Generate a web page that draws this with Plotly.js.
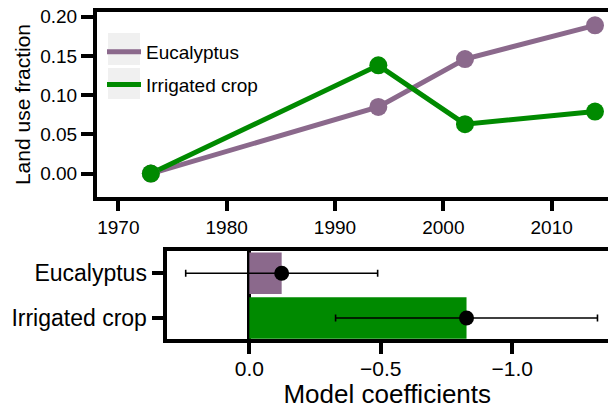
<!DOCTYPE html>
<html>
<head>
<meta charset="utf-8">
<script src="https://cdn.plot.ly/plotly-3.0.1.min.js"></script>
<style>html,body{margin:0;padding:0;background:#fff;}#chart{width:608px;height:409px;}</style>
</head>
<body>
<div id="chart"></div>
<script>
// ---- data ----
const years = [1973, 1994, 2002, 2014];
const eucalyptusFraction = [0.0, 0.085, 0.146, 0.189];
const irrigatedFraction = [0.0, 0.138, 0.063, 0.079];
const seriesNames = ["Eucalyptus", "Irrigated crop"];
const coefficients = [-0.123, -0.826];
const ciHalfWidth = [0.365, 0.498];
const yearTicks = [1970, 1980, 1990, 2000, 2010];
const fractionTicks = [0.00, 0.05, 0.10, 0.15, 0.20];
const coefTicks = [0.0, -0.5, -1.0];

const purple = "#8b698c";
const green = "#008a00";
const font = "Liberation Sans, Arial, Helvetica, sans-serif";

const traces = [
  {x: years, y: eucalyptusFraction, mode: "lines", name: seriesNames[0], legendgroup: "a",
   line: {color: purple, width: 5}, xaxis: "x", yaxis: "y"},
  {x: years, y: irrigatedFraction, mode: "lines", name: seriesNames[1], legendgroup: "b",
   line: {color: green, width: 5}, xaxis: "x", yaxis: "y"},
  {x: years, y: eucalyptusFraction, mode: "markers", showlegend: false,
   marker: {color: purple, size: 18}, xaxis: "x", yaxis: "y"},
  {x: years, y: irrigatedFraction, mode: "markers", showlegend: false,
   marker: {color: green, size: 18}, xaxis: "x", yaxis: "y"},
  {type: "bar", orientation: "h", x: coefficients, y: seriesNames, width: 0.93,
   marker: {color: [purple, green], line: {width: 0}}, showlegend: false, xaxis: "x2", yaxis: "y2"},
  {type: "scatter", mode: "markers", x: coefficients, y: seriesNames, showlegend: false,
   marker: {color: "black", size: 15},
   error_x: {type: "data", array: ciHalfWidth, symmetric: true, color: "black", thickness: 1.6, width: 3.5},
   xaxis: "x2", yaxis: "y2"}
];

const axCommon = {
  showline: true, linecolor: "black", linewidth: 4, mirror: true,
  ticks: "outside", tickcolor: "black", tickwidth: 4,
  showgrid: false, zeroline: false
};

const layout = {
  width: 608, height: 409,
  margin: {l: 0, r: 0, t: 12, b: 70, pad: 0},
  paper_bgcolor: "white", plot_bgcolor: "white",
  font: {family: font, color: "black"},
  showlegend: true,
  legend: {x: 102/608, xanchor: "left", y: 0.936, yanchor: "top", itemwidth: 34,
           bgcolor: "rgba(0,0,0,0)", font: {size: 19, family: font}, tracegroupgap: 5},
  xaxis: Object.assign({}, axCommon, {
    domain: [97/608, 1], range: [1968.03, 2015.2], tickvals: yearTicks, ticklen: 10,
    tickfont: {size: 19, family: font}, anchor: "y"}),
  yaxis: Object.assign({}, axCommon, {
    domain: [0.434, 1], range: [-0.030, 0.206], tickvals: fractionTicks, tickformat: ".2f",
    ticklen: 12, tickfont: {size: 19, family: font}, anchor: "x",
    title: {text: "Land use fraction", font: {size: 21}, standoff: 5}}),
  xaxis2: Object.assign({}, axCommon, {
    domain: [166.5/608, 1], range: [0.315, -1.364], tickvals: coefTicks, tickformat: ".1f",
    ticklen: 11, tickfont: {size: 21, family: font}, anchor: "y2", ticklabelstandoff: -3,
    zeroline: true, zerolinecolor: "black", zerolinewidth: 4,
    title: {text: "Model coefficients", font: {size: 26}, standoff: 0}}),
  yaxis2: Object.assign({}, axCommon, {
    domain: [0, 0.2706], range: [1.47, -0.51], type: "category",
    ticklen: 11, tickfont: {size: 23, family: font}, anchor: "x2"}),
  shapes: [
    {type: "rect", xref: "paper", yref: "paper", x0: 108/608, x1: 140/608,
     y0: (339-65)/327, y1: (339-33)/327, fillcolor: "#f0f0f0", line: {width: 0}, layer: "below"},
    {type: "rect", xref: "paper", yref: "paper", x0: 108/608, x1: 140/608,
     y0: (339-99)/327, y1: (339-68)/327, fillcolor: "#f0f0f0", line: {width: 0}, layer: "below"}
  ]
};

Plotly.newPlot("chart", traces, layout, {displayModeBar: false, staticPlot: true});
</script>
</body>
</html>
